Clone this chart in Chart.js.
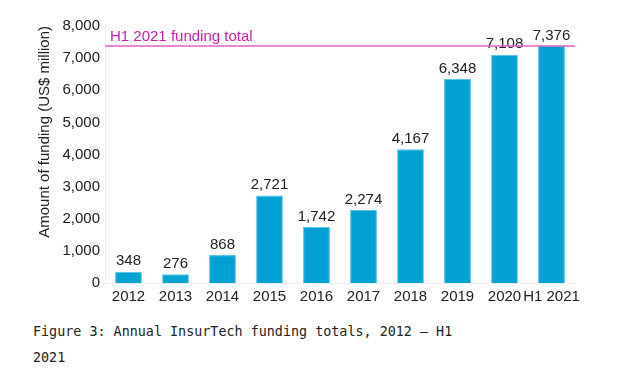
<!DOCTYPE html>
<html lang="en">
<head>
    <meta charset="UTF-8">
    <title>Annual InsurTech funding totals</title>
    <script src="https://cdn.jsdelivr.net/npm/chart.js"></script>
    <style>
        body { margin: 0; background: #fff; }
        #wrap { position: relative; width: 619px; height: 384px; }
        #chart { position: absolute; left: 0; top: 0; }
        #caption {
            position: absolute; left: 33px; top: 319px; width: 450px;
            font-family: "DejaVu Sans Mono", monospace; font-size: 13.4px;
            line-height: 25.5px; color: #222;
        }
    </style>
</head>
<body>
<div id="wrap">
    <canvas id="chart" width="619" height="305"></canvas>
    <div id="caption">Figure 3: Annual InsurTech funding totals, 2012 – H1 2021</div>
</div>
<script>
    const categories = ["2012", "2013", "2014", "2015", "2016", "2017", "2018", "2019", "2020", "H1 2021"];
    const funding = [348, 276, 868, 2721, 1742, 2274, 4167, 6348, 7108, 7376];
    const yMax = 8000;
    const yStep = 1000;
    const refValue = 7376;
    const refLabel = "H1 2021 funding total";

    const fontFamily = "'Liberation Sans', Arial, sans-serif";

    // value labels above the bars + the H1 2021 reference line
    const annotate = {
        id: "annotate",
        afterDatasetsDraw(chart) {
            const ctx = chart.ctx;
            const area = chart.chartArea;
            const meta = chart.getDatasetMeta(0);
            ctx.save();
            ctx.font = "15px " + fontFamily;
            ctx.fillStyle = "#222";
            ctx.textAlign = "center";
            ctx.textBaseline = "bottom";
            meta.data.forEach((bar, i) => {
                ctx.fillText(funding[i].toLocaleString("en-US"), bar.x, bar.y - 3);
            });

            const y = chart.scales.y.getPixelForValue(refValue);
            ctx.strokeStyle = "#e060c8";
            ctx.lineWidth = 1.5;
            ctx.beginPath();
            ctx.moveTo(area.left, y);
            ctx.lineTo(area.right, y);
            ctx.stroke();

            ctx.fillStyle = "#c81ea8";
            ctx.textAlign = "left";
            ctx.fillText(refLabel, area.left + 5, y - 2);
            ctx.restore();
        }
    };

    new Chart(document.getElementById("chart"), {
        type: "bar",
        data: {
            labels: categories,
            datasets: [{
                data: funding,
                backgroundColor: "#00a0d2",
                borderColor: "#5cc3e6",
                borderWidth: 1,
                categoryPercentage: 1,
                barPercentage: 0.57
            }]
        },
        options: {
            responsive: false,
            animation: false,
            layout: { padding: { left: 28, right: 44, top: 26, bottom: 0 } },
            plugins: {
                legend: { display: false },
                tooltip: { enabled: false }
            },
            scales: {
                x: {
                    grid: { display: false, drawTicks: false },
                    border: { color: "#eeeeee" },
                    ticks: { color: "#222", font: { family: fontFamily, size: 15 }, padding: 5, maxRotation: 0, autoSkip: false },
                    afterFit(scale) { scale.height = 22; }
                },
                y: {
                    min: 0,
                    max: yMax,
                    grid: { display: false, drawTicks: false },
                    border: { color: "#eeeeee" },
                    ticks: {
                        stepSize: yStep,
                        color: "#222",
                        padding: 5,
                        font: { family: fontFamily, size: 15 },
                        callback: v => v.toLocaleString("en-US")
                    },
                    title: {
                        display: true,
                        text: "Amount of funding (US$ million)",
                        align: "end",
                        color: "#222",
                        font: { family: fontFamily, size: 15 },
                        padding: { top: 8, bottom: 0 }
                    },
                    afterFit(scale) { scale.width = 77; }
                }
            }
        },
        plugins: [annotate]
    });
</script>
</body>
</html>
